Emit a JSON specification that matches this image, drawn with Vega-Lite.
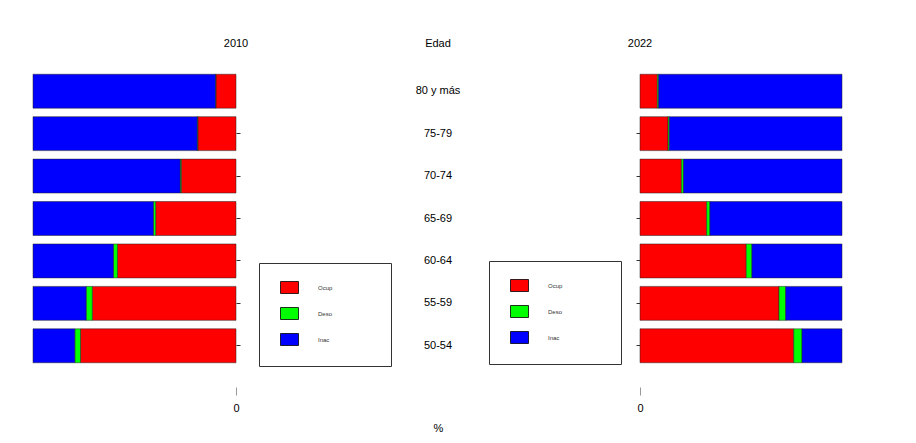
{
  "$schema": "https://vega.github.io/schema/vega-lite/v6.json",
  "background": "white",
  "padding": {"left": 32, "top": 38, "right": 0, "bottom": 0},
  "bounds": "flush",
  "spacing": 0,
  "datasets": {
    "lab": [
      {"anio": 2010, "edad": "80 y más", "cat": "Ocup", "pct": 9.9},
      {"anio": 2010, "edad": "80 y más", "cat": "Deso", "pct": 0.2},
      {"anio": 2010, "edad": "80 y más", "cat": "Inac", "pct": 89.9},
      {"anio": 2010, "edad": "75-79", "cat": "Ocup", "pct": 18.8},
      {"anio": 2010, "edad": "75-79", "cat": "Deso", "pct": 0.3},
      {"anio": 2010, "edad": "75-79", "cat": "Inac", "pct": 80.9},
      {"anio": 2010, "edad": "70-74", "cat": "Ocup", "pct": 27.0},
      {"anio": 2010, "edad": "70-74", "cat": "Deso", "pct": 0.5},
      {"anio": 2010, "edad": "70-74", "cat": "Inac", "pct": 72.5},
      {"anio": 2010, "edad": "65-69", "cat": "Ocup", "pct": 39.6},
      {"anio": 2010, "edad": "65-69", "cat": "Deso", "pct": 1.1},
      {"anio": 2010, "edad": "65-69", "cat": "Inac", "pct": 59.3},
      {"anio": 2010, "edad": "60-64", "cat": "Ocup", "pct": 58.4},
      {"anio": 2010, "edad": "60-64", "cat": "Deso", "pct": 2.0},
      {"anio": 2010, "edad": "60-64", "cat": "Inac", "pct": 39.6},
      {"anio": 2010, "edad": "55-59", "cat": "Ocup", "pct": 70.8},
      {"anio": 2010, "edad": "55-59", "cat": "Deso", "pct": 3.0},
      {"anio": 2010, "edad": "55-59", "cat": "Inac", "pct": 26.2},
      {"anio": 2010, "edad": "50-54", "cat": "Ocup", "pct": 76.6},
      {"anio": 2010, "edad": "50-54", "cat": "Deso", "pct": 2.8},
      {"anio": 2010, "edad": "50-54", "cat": "Inac", "pct": 20.6},
      {"anio": 2022, "edad": "80 y más", "cat": "Ocup", "pct": 8.6},
      {"anio": 2022, "edad": "80 y más", "cat": "Deso", "pct": 0.6},
      {"anio": 2022, "edad": "80 y más", "cat": "Inac", "pct": 90.8},
      {"anio": 2022, "edad": "75-79", "cat": "Ocup", "pct": 13.9},
      {"anio": 2022, "edad": "75-79", "cat": "Deso", "pct": 0.6},
      {"anio": 2022, "edad": "75-79", "cat": "Inac", "pct": 85.5},
      {"anio": 2022, "edad": "70-74", "cat": "Ocup", "pct": 20.5},
      {"anio": 2022, "edad": "70-74", "cat": "Deso", "pct": 1.0},
      {"anio": 2022, "edad": "70-74", "cat": "Inac", "pct": 78.5},
      {"anio": 2022, "edad": "65-69", "cat": "Ocup", "pct": 33.0},
      {"anio": 2022, "edad": "65-69", "cat": "Deso", "pct": 1.6},
      {"anio": 2022, "edad": "65-69", "cat": "Inac", "pct": 65.4},
      {"anio": 2022, "edad": "60-64", "cat": "Ocup", "pct": 52.6},
      {"anio": 2022, "edad": "60-64", "cat": "Deso", "pct": 2.8},
      {"anio": 2022, "edad": "60-64", "cat": "Inac", "pct": 44.6},
      {"anio": 2022, "edad": "55-59", "cat": "Ocup", "pct": 68.8},
      {"anio": 2022, "edad": "55-59", "cat": "Deso", "pct": 3.3},
      {"anio": 2022, "edad": "55-59", "cat": "Inac", "pct": 27.9},
      {"anio": 2022, "edad": "50-54", "cat": "Ocup", "pct": 76.1},
      {"anio": 2022, "edad": "50-54", "cat": "Deso", "pct": 4.1},
      {"anio": 2022, "edad": "50-54", "cat": "Inac", "pct": 19.8}
    ]
  },
  "data": {"name": "lab"},
  "hconcat": [
    {
      "width": 203,
      "height": 297,
      "title": {"text": "2010", "anchor": "end", "align": "center", "frame": "group"},
      "transform": [
        {"filter": "datum.anio == 2010"},
        {"calculate": "indexof(['Ocup','Deso','Inac'], datum.cat)", "as": "ord"}
      ],
      "mark": {"type": "bar", "stroke": "#222", "strokeWidth": 0.5},
      "encoding": {
        "y": {
          "field": "edad", "type": "nominal",
          "sort": ["80 y más", "75-79", "70-74", "65-69", "60-64", "55-59", "50-54"],
          "scale": {"paddingInner": 0.2, "paddingOuter": 0.1},
          "axis": {"orient": "right", "labels": false, "domain": false, "title": null, "tickSize": 4, "tickColor": "#333",
                   "values": ["75-79", "70-74", "65-69", "60-64", "55-59", "50-54"]}
        },
        "x": {
          "field": "pct", "type": "quantitative", "stack": "zero",
          "scale": {"domain": [0, 100], "reverse": true, "nice": false},
          "axis": {"values": [0], "domain": false, "grid": false, "title": null, "offset": 20, "tickSize": 8,
                   "tickColor": "#999", "labelFlush": false, "labelPadding": 7, "labelFontSize": 11, "labelColor": "black"}
        },
        "order": {"field": "ord", "type": "quantitative"},
        "color": {
          "field": "cat", "type": "nominal",
          "scale": {"domain": ["Ocup", "Deso", "Inac"], "range": ["#FF0000", "#00FF00", "#0000FF"]},
          "legend": {
            "legendX": 226, "legendY": 193,
            "labelExpr": "datum.label + '\u00a0\u00a0\u00a0\u00a0\u00a0\u00a0\u00a0\u00a0\u00a0\u00a0\u00a0\u00a0\u00a0\u00a0\u00a0\u00a0\u00a0\u00a0\u00a0\u00a0\u00a0\u00a0\u00a0\u00a0\u200b'"
          }
        }
      }
    },
    {
      "width": 404,
      "height": 297,
      "title": {"text": "Edad", "anchor": "middle", "frame": "group"},
      "transform": [{"filter": "datum.anio == 2010 && datum.cat == 'Ocup'"}],
      "mark": {"type": "text", "fontSize": 11, "color": "black", "baseline": "middle"},
      "encoding": {
        "y": {
          "field": "edad", "type": "nominal",
          "sort": ["80 y más", "75-79", "70-74", "65-69", "60-64", "55-59", "50-54"],
          "scale": {"paddingInner": 0.2, "paddingOuter": 0.1},
          "axis": null
        },
        "x": {
          "datum": 0.5, "type": "quantitative",
          "scale": {"domain": [0, 1]},
          "axis": {"title": "%", "labels": false, "ticks": false, "domain": false, "grid": false, "titlePadding": 55,
                   "titleFontSize": 11, "titleFontWeight": "normal", "titleColor": "black"}
        },
        "text": {"field": "edad"}
      }
    },
    {
      "width": 202,
      "height": 297,
      "title": {"text": "2022", "anchor": "start", "align": "center", "frame": "group"},
      "transform": [
        {"filter": "datum.anio == 2022"},
        {"calculate": "indexof(['Ocup','Deso','Inac'], datum.cat)", "as": "ord"}
      ],
      "mark": {"type": "bar", "stroke": "#222", "strokeWidth": 0.5},
      "encoding": {
        "y": {
          "field": "edad", "type": "nominal",
          "sort": ["80 y más", "75-79", "70-74", "65-69", "60-64", "55-59", "50-54"],
          "scale": {"paddingInner": 0.2, "paddingOuter": 0.1},
          "axis": {"orient": "left", "labels": false, "domain": false, "title": null, "tickSize": 4, "tickColor": "#333",
                   "values": ["75-79", "70-74", "65-69", "60-64", "55-59", "50-54"]}
        },
        "x": {
          "field": "pct", "type": "quantitative", "stack": "zero",
          "scale": {"domain": [0, 100], "nice": false},
          "axis": {"values": [0], "domain": false, "grid": false, "title": null, "offset": 20, "tickSize": 8,
                   "tickColor": "#999", "labelFlush": false, "labelPadding": 7, "labelFontSize": 11, "labelColor": "black"}
        },
        "order": {"field": "ord", "type": "quantitative"},
        "color": {
          "field": "cat", "type": "nominal",
          "scale": {"domain": ["Ocup", "Deso", "Inac"], "range": ["#FF0000", "#00FF00", "#0000FF"]},
          "legend": {
            "legendX": -151, "legendY": 191,
            "labelExpr": "datum.label + '\u00a0\u00a0\u00a0\u00a0\u00a0\u00a0\u00a0\u00a0\u00a0\u00a0\u00a0\u00a0\u00a0\u00a0\u00a0\u00a0\u00a0\u00a0\u00a0\u00a0\u00a0\u00a0\u00a0\u00a0\u200b'"
          }
        }
      }
    }
  ],
  "resolve": {"scale": {"color": "independent", "x": "independent"}, "legend": {"color": "independent"}},
  "config": {
    "font": "Liberation Sans",
    "view": {"stroke": null},
    "title": {"fontSize": 11, "fontWeight": "normal", "color": "black", "offset": 21},
    "legend": {
      "orient": "none",
      "title": null,
      "symbolType": "M-1.5,-1H1.5V1H-1.5Z",
      "symbolSize": 144,
      "symbolOffset": 6,
      "symbolStrokeColor": "black",
      "symbolStrokeWidth": 0.8,
      "symbolOpacity": 1,
      "labelFontSize": 6,
      "labelColor": "#333",
      "labelOffset": 22,
      "rowPadding": 9,
      "padding": 18,
      "strokeColor": "#333",
      "fillColor": "white"
    }
  }
}
